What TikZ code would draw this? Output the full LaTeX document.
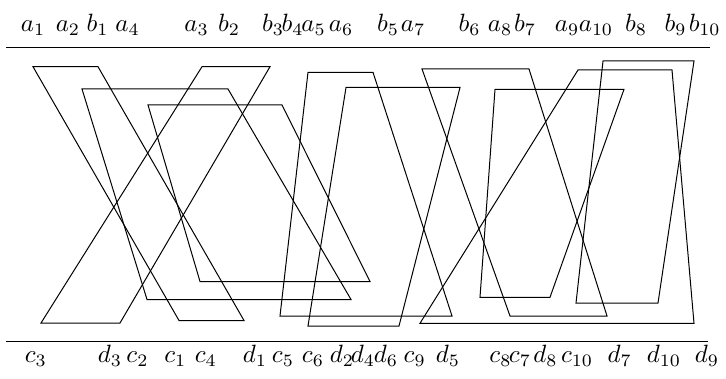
\documentclass[tikz,border=0pt]{standalone}

\begin{document}
\begin{tikzpicture}[x=.4pt,y=-.4pt,lab/.style={anchor=base,inner sep=0pt}]
 \useasboundingbox (0,0) rectangle (726,379);
 \draw (6,48)--(710,48);
 \draw (6,341.7)--(708,341.7);
 % trapezoids: a_i--b_i on top, d_i--c_i below
 \draw (33,66.7)--(98,66.7)--(244,320.5)--(179,320.5)--cycle;
 \draw (82,89)--(228,89)--(351,299.5)--(147,299.5)--cycle;
 \draw (202,66.7)--(270,66.7)--(120,323)--(41,323)--cycle;
 \draw (148,105)--(282,105)--(370,281.5)--(200,281.5)--cycle;
 \draw (308,72.3)--(373,72.3)--(452,316)--(280,316)--cycle;
 \draw (346,87.5)--(460,87.5)--(399,326)--(308,326)--cycle;
 \draw (422,69)--(529,69)--(607,316)--(510,316)--cycle;
 \draw (495,89.3)--(624,89.3)--(550,297.3)--(480,297.3)--cycle;
 \draw (578,70)--(672,70)--(694,323.3)--(420,323.3)--cycle;
 \draw (603,61)--(694,61)--(658,303)--(576,303)--cycle;
 % labels
 \foreach \x/\l/\i in {33/a/1,68/a/2,97.5/b/1,127.5/a/4,196.5/a/3,229/b/2,273/b/3,292.5/b/4,
   313.5/a/5,341/a/6,388/b/5,413/a/7,469.7/b/6,500/a/8,525/b/7,567/a/9,596/a/10,636/b/8,
   675.5/b/9,704.7/b/10}
   \node[lab] (\l\i) at (\x,31.5) {$\l_{\i}$};
 \foreach \x/\l/\i in {35.8/c/3,110/d/3,137.5/c/2,175.3/c/1,205.8/c/4,255/d/1,283/c/5,313/c/6,
   342/d/2,363/d/4,386/d/6,414.7/c/9,448/d/5,500.5/c/8,520/c/7,545.5/d/8,577/c/10,619.7/d/7,
   664/d/10,707/d/9}
   \node[lab] (\l\i) at (\x,362.5) {$\l_{\i}$};
\end{tikzpicture}
\end{document}
